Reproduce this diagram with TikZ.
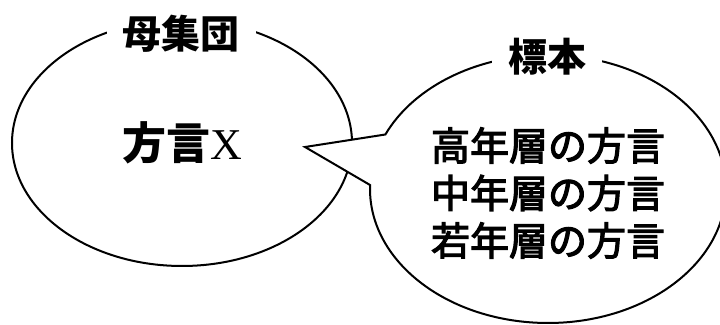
\documentclass[tikz,border=0pt]{standalone}
\usepackage{fontspec}
\setmainfont{Liberation Serif}
\newfontfamily\cjk{Noto Sans CJK JP}
\newfontfamily\cjkmed[FakeBold=3]{Noto Sans CJK JP}
\usetikzlibrary{shapes.geometric,calc}
\begin{document}
\begin{tikzpicture}[x=1pt,y=1pt,line width=2pt,
  titlebox/.style={fill=white,inner xsep=16pt,inner ysep=2pt,font=\cjk\bfseries\fontsize{39}{39}\selectfont},
  bodytext/.style={align=center,font=\cjkmed\fontsize{39}{47.5}\selectfont}]
\useasboundingbox (0,0) rectangle (720,324);
\node[ellipse,draw,minimum width=340pt,minimum height=246pt,inner sep=0pt,font=\fontsize{44}{44}\selectfont] (pop) at (182,181) {{\cjk\bfseries 方言}X};
\coordinate (c) at (548,135);
\coordinate (tip) at (305,177);
\coordinate (up) at ($(c)+(156:178 and 134)$);
\coordinate (low) at ($(c)+(178.3:178 and 134)$);
\draw[fill=white] (up) -- (tip) -- (low) arc[start angle=178.3,end angle=516,x radius=178,y radius=134] -- cycle;
\node[bodytext] (sample) at (548,131) {高年層の方言\\中年層の方言\\若年層の方言};
\node[titlebox] (poptitle) at (181,290) {母集団};
\node[titlebox] (sampletitle) at (547,267) {標本};
\end{tikzpicture}
\end{document}
